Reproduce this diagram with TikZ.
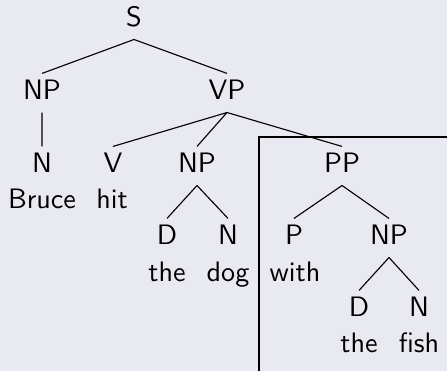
\documentclass[tikz,border=0pt]{standalone}
\usepackage{tikz}

\definecolor{slidebg}{RGB}{233,233,242}

\begin{document}
\begin{tikzpicture}[x=.125mm,y=-.125mm,
 every node/.style={font=\sffamily,anchor=base,inner sep=2.25pt,
  text height=7pt,text depth=2pt}]
\fill[slidebg] (0,0) rectangle (447,371);
\useasboundingbox (0,0) rectangle (447,371);
% categories
\node (S) at (134,27) {S};
\node (NP) at (42,100) {NP};
\node (VP) at (227,100) {VP};
\node (N1) at (42,173) {N};
\node (V) at (113,173) {V};
\node (NP2) at (197,173) {NP};
\node (PP) at (342,173) {PP};
\node (D1) at (167,245) {D};
\node (N2) at (228,245) {N};
\node (P) at (294,245) {P};
\node (NP3) at (389,245) {NP};
\node (D2) at (359,317) {D};
\node (N3) at (419,317) {N};
% words
\node (bruce) at (42,209) {Bruce};
\node (hit) at (112,209) {hit};
\node (the1) at (167,282) {the};
\node (dog) at (228,282) {dog};
\node (with) at (295,282) {with};
\node (the2) at (359,353) {the};
\node (fish) at (419,353) {fish};
\draw (S.south)--(NP.north) (S.south)--(VP.north)
 (NP.south)--(N1.north)
 (VP.south)--(V.north) (VP.south)--(NP2.north) (VP.south)--(PP.north)
 (NP2.south)--(D1.north) (NP2.south)--(N2.north)
 (PP.south)--(P.north) (PP.south)--(NP3.north)
 (NP3.south)--(D2.north) (NP3.south)--(N3.north);
% box round the PP
\draw (447,137) -| (259,371);
\end{tikzpicture}
\end{document}
